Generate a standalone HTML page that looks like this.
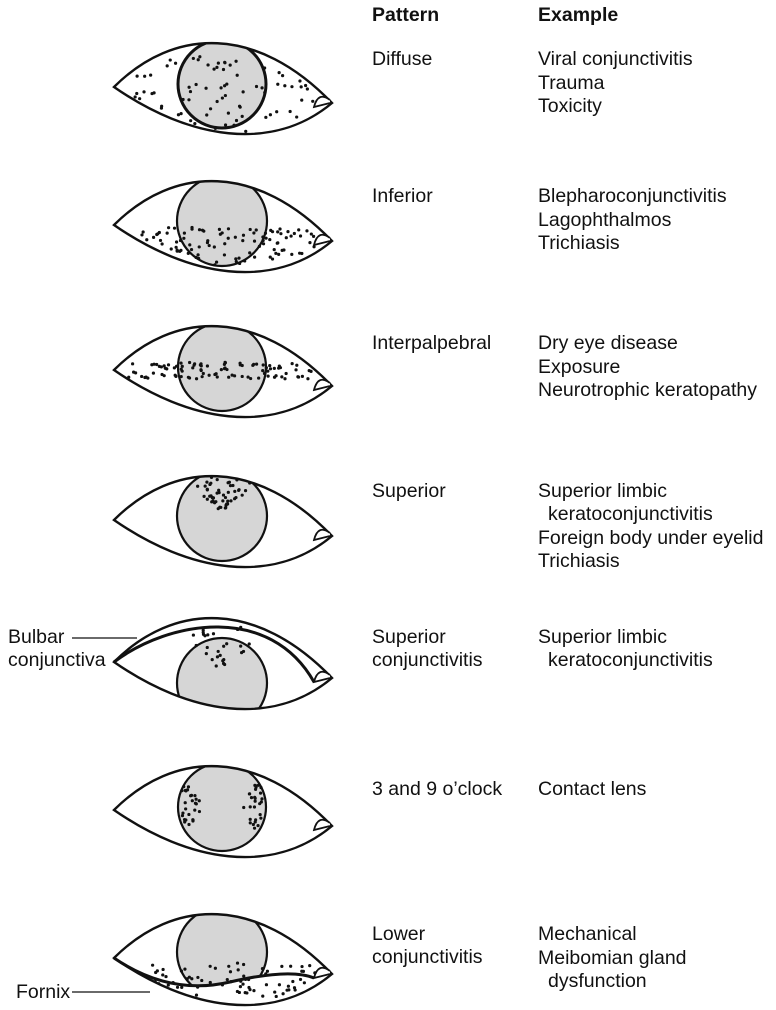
<!DOCTYPE html>
<html><head><meta charset="utf-8"><style>
body{margin:0;background:#fff;}
svg{display:block}
text{font-family:"Liberation Sans",Arial,sans-serif;font-size:19.5px;fill:#111}
.b{font-weight:bold}
</style></head><body>
<svg id="s" width="776" height="1010" xmlns="http://www.w3.org/2000/svg">
<text x="372" y="21" class="b">Pattern</text><text x="538" y="21" class="b">Example</text>
<text x="372" y="65">Diffuse</text>
<text x="538" y="65">Viral conjunctivitis</text><text x="538" y="89">Trauma</text><text x="538" y="112">Toxicity</text>
<text x="372" y="202">Inferior</text>
<text x="538" y="202">Blepharoconjunctivitis</text><text x="538" y="226">Lagophthalmos</text><text x="538" y="249">Trichiasis</text>
<text x="372" y="349">Interpalpebral</text>
<text x="538" y="349">Dry eye disease</text><text x="538" y="373">Exposure</text><text x="538" y="396">Neurotrophic keratopathy</text>
<text x="372" y="497">Superior</text>
<text x="538" y="497">Superior limbic</text><text x="548" y="520">keratoconjunctivitis</text><text x="538" y="544">Foreign body under eyelid</text><text x="538" y="567">Trichiasis</text>
<text x="372" y="643">Superior</text><text x="372" y="666">conjunctivitis</text>
<text x="538" y="643">Superior limbic</text><text x="548" y="666">keratoconjunctivitis</text>
<text x="372" y="795">3 and 9 o’clock</text>
<text x="538" y="795">Contact lens</text>
<text x="372" y="940">Lower</text><text x="372" y="963">conjunctivitis</text>
<text x="538" y="940">Mechanical</text><text x="538" y="964">Meibomian gland</text><text x="548" y="987">dysfunction</text>
<text x="8" y="643">Bulbar</text><text x="8" y="666">conjunctiva</text>
<line x1="72" y1="638" x2="137" y2="638" stroke="#111" stroke-width="1.3"/>
<text x="16" y="998">Fornix</text>
<line x1="72" y1="992" x2="150" y2="992" stroke="#111" stroke-width="1.3"/>
<g id="eyes"></g>
</svg>
<script>
var seed=11;function r(){seed=(seed*16807)%2147483647;return seed/2147483647;}
var ns="http://www.w3.org/2000/svg",G=document.getElementById('eyes');
function el(t,a,p){var e=document.createElementNS(ns,t);for(var k in a)e.setAttribute(k,a[k]);(p||G).appendChild(e);return e;}
var eyes=[
 {cy:87,iy:84,ir:44,type:'diffuse',sw:3},
 {cy:225,iy:221,ir:45,type:'inferior'},
 {cy:370,iy:367,ir:44,type:'inter'},
 {cy:520,iy:516,ir:45,type:'superior'},
 {cy:662,iy:683,ir:45,type:'bulbar'},
 {cy:810,iy:807,ir:44,type:'clock'},
 {cy:958,iy:952,ir:45,type:'lower'}];
eyes.forEach(function(e,i){
 var y=e.cy,L=114,R=332,RY=y+16;
 var lid="M"+L+","+y+" C"+(L+60)+","+(y-60)+" "+(R-75)+","+(y-62)+" "+R+","+RY+
   " C"+(R-60)+","+(RY+50)+" "+(L+75)+","+(y+52)+" "+L+","+y+"Z";
 var forn="M"+L+","+y+" Q170,"+(y+38)+" 230,"+(y+24)+" Q290,"+(y+10)+" "+(R-18)+","+(RY+4);
 var cp=el('clipPath',{id:'c'+i});el('path',{d:lid},cp);
 var g=el('g',{'clip-path':'url(#c'+i+')'});
 var ig=g;
 if(e.type=='lower'){
   var cp2=el('clipPath',{id:'f'+i});el('path',{d:forn+" L"+R+","+(y-80)+" L"+L+","+(y-80)+"Z"},cp2);
   ig=el('g',{'clip-path':'url(#f'+i+')'},g);
 }
 el('circle',{cx:222,cy:e.iy,r:e.ir,fill:'#d6d6d6',stroke:'#111','stroke-width':e.sw||2.2},ig);
 function inside(x,yy){
  var t=(x-L)/(R-L); if(t<0||t>1)return false;
  var base=y+16*t, s=Math.pow(Math.sin(Math.PI*t),0.8), top=base-45*s, bot=base+40*s;
  return yy>top+3&&yy<bot-3;}
 function dot(x,yy){el('circle',{cx:x,cy:yy,r:1.6,fill:'#111'},g);}
 var k,x,yy;
 if(e.type=='diffuse'){for(k=0;k<130;k++){x=L+r()*(R-L);yy=y-45+r()*90;if(inside(x,yy)&&x<316)dot(x,yy);}}
 if(e.type=='inferior'){for(k=0;k<300;k++){x=L+r()*(R-L);yy=y+2+r()*40;if(inside(x,yy)&&x<316&&r()<0.4)dot(x,yy);}}
 if(e.type=='inter'){for(k=0;k<100;k++){x=L+10+r()*200;yy=y-8+r()*17;if(inside(x,yy))dot(x,yy);}}
 if(e.type=='superior'){for(k=0;k<55;k++){yy=e.iy-40+r()*33;var w=(1-(yy-(e.iy-40))/35)*38+3;x=222+(r()*2-1)*w;dot(x,yy);}}
 if(e.type=='bulbar'){for(k=0;k<18;k++){yy=e.iy-40+r()*24;x=222+(r()*2-1)*(32-(yy-(e.iy-40)));dot(x,yy);}
   for(k=0;k<10;k++){dot(192+r()*65,y-35+r()*9);}}
 if(e.type=='clock'){for(k=0;k<28;k++){var d=r()*2-1;yy=e.iy+d*22;var w=22-Math.abs(d)*14;dot(182+r()*w,yy);d=r()*2-1;yy=e.iy+d*22;w=22-Math.abs(d)*14;dot(262-r()*w,yy);}}
 if(e.type=='lower'){for(k=0;k<260;k++){x=L+20+r()*195;yy=y+4+r()*35;if(inside(x,yy)&&r()<0.3)dot(x,yy);}}
 el('path',{d:lid,fill:'none',stroke:'#111','stroke-width':2.4});
 el('path',{d:"M"+(R-2)+","+(RY-3)+" Q"+(R-14)+","+(RY-12)+" "+(R-18)+","+(RY+4)+" L"+(R-2)+","+RY,fill:'#fff',stroke:'#111','stroke-width':1.8});
 if(e.type=='bulbar'){el('path',{d:"M"+L+","+y+" C170,"+(y-42)+" 270,"+(y-58)+" "+(R-18)+","+(RY+4),fill:'none',stroke:'#111','stroke-width':3});}
 if(e.type=='lower'){el('path',{d:forn,fill:'none',stroke:'#111','stroke-width':3});}
});
</script>
</body></html>
